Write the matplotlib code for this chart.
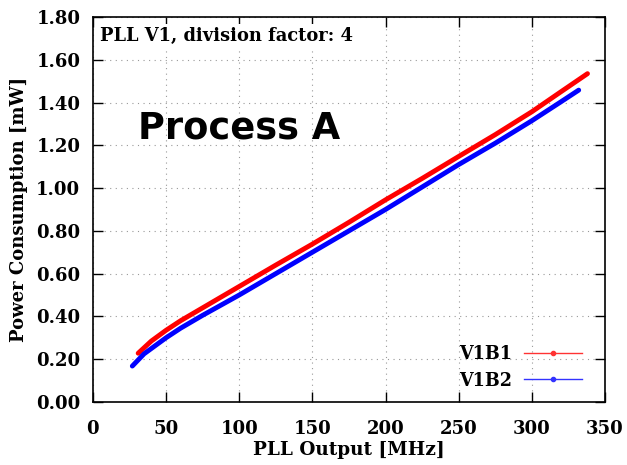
import matplotlib.pyplot as plt
from matplotlib.lines import Line2D

# datos
freq_v1b1 = [31, 40, 50, 60, 75, 100, 125, 150, 175, 200, 225, 250, 275, 300, 320, 338]
pot_v1b1 = [0.228, 0.285, 0.335, 0.38, 0.44, 0.54, 0.64, 0.738, 0.84, 0.945, 1.045, 1.148, 1.25, 1.357, 1.451, 1.535]
freq_v1b2 = [27, 35, 50, 60, 75, 100, 125, 150, 175, 200, 225, 250, 275, 300, 320, 332]
pot_v1b2 = [0.168, 0.225, 0.30, 0.345, 0.405, 0.50, 0.60, 0.70, 0.80, 0.90, 1.005, 1.11, 1.21, 1.315, 1.404, 1.458]

xticks = [0, 50, 100, 150, 200, 250, 300, 350]
yticks = [0.0, 0.2, 0.4, 0.6, 0.8, 1.0, 1.2, 1.4, 1.6, 1.8]

serif = ['DejaVu Serif']

fig = plt.figure(figsize=(6.27, 4.65), dpi=100)
ax = fig.add_axes([0.148, 0.1355, 0.817, 0.828])

ax.plot(freq_v1b1, pot_v1b1, color='#ff0000', lw=3.5, solid_capstyle='round')
ax.plot(freq_v1b2, pot_v1b2, color='#0000ff', lw=3.5, solid_capstyle='round')

ax.set_xlim(0, 350)
ax.set_ylim(0, 1.8)
ax.set_xticks(xticks)
ax.set_yticks(yticks)
ax.set_xticklabels([str(t) for t in xticks], fontfamily=serif, fontweight='bold', fontsize=13)
ax.set_yticklabels(['%.2f' % t for t in yticks], fontfamily=serif, fontweight='bold', fontsize=13)
ax.tick_params(direction='in', top=True, right=True, length=7, width=1)
ax.tick_params(axis='x', pad=13)
ax.tick_params(axis='y', pad=9)
ax.grid(True, linestyle=(0, (1, 4)), color='#999999', lw=0.8)
for s in ax.spines.values():
    s.set_linewidth(1.2)

ax.set_xlabel('PLL Output [MHz]', fontfamily=serif, fontweight='bold', fontsize=13.3, labelpad=2)
ax.set_ylabel('Power Consumption [mW]', fontfamily=serif, fontweight='bold', fontsize=13, labelpad=6)

ax.text(0.015, 0.975, 'PLL V1, division factor: 4', transform=ax.transAxes,
        ha='left', va='top', fontfamily=serif, fontweight='bold', fontsize=12.9,
        bbox=dict(facecolor='white', edgecolor='none', pad=2))
ax.text(0.286, 0.712, 'Process A', transform=ax.transAxes, ha='center', va='center',
        fontfamily='DejaVu Sans', fontweight='bold', fontsize=26.5)

# leyenda
handles = [Line2D([], [], color='#ff3333', lw=1, marker='o', markersize=3),
           Line2D([], [], color='#3333ff', lw=1, marker='o', markersize=3)]
leg = ax.legend(handles, ['V1B1', 'V1B2'], loc='lower right', bbox_to_anchor=(0.98, 0.0),
                markerfirst=False, numpoints=1, frameon=False, handlelength=3.3,
                handletextpad=0.7, labelspacing=0.5, borderaxespad=0.3,
                prop=dict(family=serif, weight='bold', size=12.7))

plt.savefig('out.png', dpi=100)
